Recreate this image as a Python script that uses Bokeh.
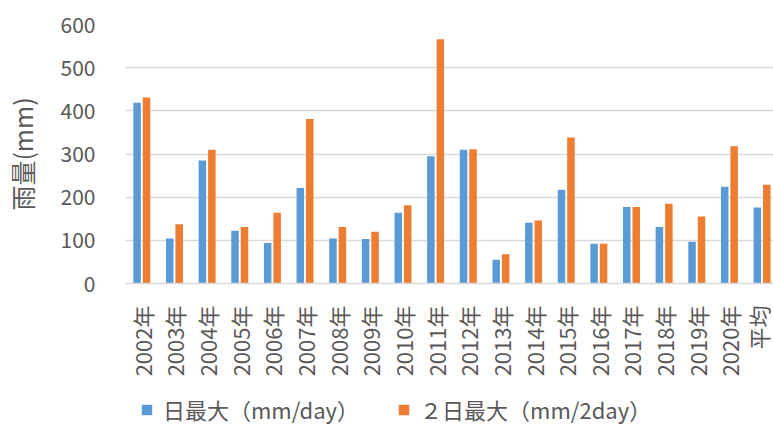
from bokeh.plotting import figure
from bokeh.models import ColumnDataSource, Range1d, FixedTicker, Legend, LegendItem
from bokeh.layouts import column
from bokeh.transform import dodge
from bokeh.embed import file_html
from bokeh.resources import INLINE
import math

# Annual maximum rainfall (mm)
years = ["2002年", "2003年", "2004年", "2005年", "2006年", "2007年", "2008年",
         "2009年", "2010年", "2011年", "2012年", "2013年", "2014年", "2015年",
         "2016年", "2017年", "2018年", "2019年", "2020年", "平均"]
daily_max = [419, 104, 285, 122, 94, 221, 104, 103, 164, 295, 310, 55, 141, 217,
             92, 177, 131, 97, 224, 176]
two_day_max = [431, 137, 310, 131, 164, 381, 131, 120, 181, 566, 311, 68, 146, 338,
               92, 177, 185, 155, 318, 229]
y_ticks = [0, 100, 200, 300, 400, 500, 600]
series_names = ["日最大（mm/day）", "２日最大（mm/2day）"]

FONT = "Noto Sans CJK JP"
TEXT = "#595959"
GRID = "#d9d9d9"
BLUE = "#5B9BD5"
ORANGE = "#ED7D31"

idx = list(range(len(years)))
src = ColumnDataSource(data=dict(i=idx, d1=daily_max, d2=two_day_max))

# the plot area runs slightly past the right edge of the page
p = figure(x_range=Range1d(-0.5, len(years) - 0.65), y_range=(0, 600),
           width=773, height=385, output_backend="svg", toolbar_location=None,
           min_border_left=120, min_border_right=0, min_border_top=24,
           min_border_bottom=102)
p.outline_line_color = None
p.background_fill_color = "white"
p.border_fill_color = "white"

p.vbar(x=dodge("i", -0.145), top="d1", width=0.23,
       source=src, fill_color=BLUE, line_color=None)
p.vbar(x=dodge("i", 0.145), top="d2", width=0.23,
       source=src, fill_color=ORANGE, line_color=None)

# grid and axes
p.xgrid.grid_line_color = None
p.ygrid.grid_line_color = GRID
p.ygrid.grid_line_width = 1.5
p.yaxis.ticker = y_ticks
p.yaxis.axis_line_color = None
p.yaxis.major_tick_line_color = None
p.yaxis.minor_tick_line_color = None
p.yaxis.major_label_standoff = 24
p.yaxis.major_label_text_font = FONT
p.yaxis.major_label_text_font_size = "21px"
p.yaxis.major_label_text_color = TEXT
p.yaxis.axis_label = "雨量(mm)"
p.yaxis.axis_label_text_font = FONT
p.yaxis.axis_label_text_font_size = "25px"
p.yaxis.axis_label_text_font_style = "normal"
p.yaxis.axis_label_text_color = TEXT
p.yaxis.axis_label_standoff = 18

p.xaxis.ticker = FixedTicker(ticks=idx, minor_ticks=[])
p.xaxis.major_label_overrides = {i: y for i, y in zip(idx, years)}
p.xaxis.axis_line_color = GRID
p.xaxis.axis_line_width = 1.5
p.xaxis.major_tick_line_color = None
p.xaxis.minor_tick_line_color = None
p.xaxis.major_label_orientation = math.pi / 2
p.xaxis.major_label_standoff = 16
p.xaxis.major_label_text_font = FONT
p.xaxis.major_label_text_font_size = "22px"
p.xaxis.major_label_text_color = TEXT

# legend strip under the chart; its key renderers sit outside the visible range
lg = figure(width=773, height=40, x_range=(0, 1), y_range=(0, 1),
            output_backend="svg", toolbar_location=None,
            x_axis_location=None, y_axis_location=None,
            min_border=0, outline_line_color=None)
lg.grid.grid_line_color = None
key_src = ColumnDataSource(data=dict(x=[-5], top=[-5]))
k1 = lg.vbar(x="x", top="top", width=0.1, source=key_src,
             fill_color=BLUE, line_color=None)
k2 = lg.vbar(x="x", top="top", width=0.1, source=key_src,
             fill_color=ORANGE, line_color=None)
legend = Legend(items=[LegendItem(label=series_names[0], renderers=[k1]),
                       LegendItem(label=series_names[1], renderers=[k2])],
                orientation="horizontal", location=(15, 0),
                glyph_width=13, glyph_height=13, label_standoff=10, spacing=38,
                padding=0, margin=0, border_line_color=None,
                background_fill_alpha=0,
                label_text_font=FONT, label_text_font_size="22px",
                label_text_color=TEXT)
lg.add_layout(legend, "center")

open("out.html", "w").write(file_html(column(p, lg, spacing=0), INLINE))
